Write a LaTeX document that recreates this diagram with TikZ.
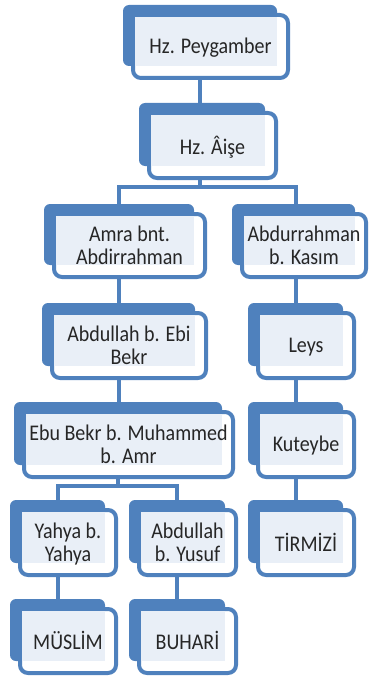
\documentclass[tikz,border=0pt]{standalone}
\usepackage{fontspec}
\setmainfont{Carlito}
\usetikzlibrary{fit,backgrounds}
\definecolor{oblue}{HTML}{4F81BD}
\definecolor{olight}{HTML}{E9EFF7}
\definecolor{otext}{HTML}{262626}
\tikzset{
  backbox/.style={fill=oblue, draw=none, rounded corners=6pt, inner sep=0pt},
  frontbox/.style={fill=white, draw=oblue, line width=4pt, rounded corners=8pt, inner sep=0pt},
  txt/.style={align=center, inner sep=0pt, text=otext, font=\fontsize{20}{20}\selectfont},
  conn/.style={draw=oblue, line width=4pt}
}
\newcommand\orgbox[6]{%
  \node[backbox, fit={(#2-8,#3-8) (#4-13,#5-14)}] (#1B) {};
  \node[frontbox, fit={(#2+2,#3+2) (#4-2,#5-2)}] (#1F) {};
  \fill[olight] (#2+4,#3+4) rectangle (#4-13,#5-14);
  \node[txt] (#1) at ([yshift=-3pt]#1F.center) {\scalebox{1}[1.12]{\begin{tabular}{@{}c@{}}#6\end{tabular}}};
}
\begin{document}
\begin{tikzpicture}[x=1pt,y=-1pt]
\useasboundingbox (0,0) rectangle (369,682);
\orgbox{pe}{131}{13}{290}{80}{Hz. Peygamber}
\orgbox{ai}{147}{111}{278}{180}{Hz. Âişe}
\orgbox{am}{52}{212}{207}{279}{Amra bnt.\\Abdirrahman}
\orgbox{ka}{240}{212}{368}{279}{Abdurrahman\\b. Kasım}
\orgbox{eb}{50}{311}{208}{380}{Abdullah b. Ebi\\Bekr}
\orgbox{le}{256}{311}{356}{380}{Leys}
\orgbox{mu}{22}{410}{235}{479}{Ebu Bekr b. Muhammed\\b. Amr}
\orgbox{ku}{256}{410}{356}{479}{Kuteybe}
\orgbox{ya}{18}{508}{118}{577}{Yahya b.\\Yahya}
\orgbox{yu}{137}{508}{238}{577}{Abdullah\\b. Yusuf}
\orgbox{ti}{256}{508}{356}{577}{TİRMİZİ}
\orgbox{ms}{18}{607}{118}{675}{MÜSLİM}
\orgbox{bu}{137}{607}{238}{675}{BUHARİ}
\coordinate (br1) at (0,187);
\coordinate (br2) at (0,486);
\begin{pgfonlayer}{background}
  \draw[conn] (peB.center) -- (peB.center |- br1);
  \draw[conn] (amB.center) -- (amB.center |- br1) -- (leB.center |- br1) -- (leB.center |- kaB.center);
  \draw[conn] (amB.center) -- (amB.center |- muB.center);
  \draw[conn] (muB.center) -- (muB.center |- br2);
  \draw[conn] (yaB.center) -- (yaB.center |- br2) -- (yuB.center |- br2) -- (yuB.center);
  \draw[conn] (yaB.center) -- (yaB.center |- msB.center);
  \draw[conn] (yuB.center) -- (yuB.center |- buB.center);
  \draw[conn] (kaB.center -| leB.center) -- (leB.center |- tiB.center);
\end{pgfonlayer}
\end{tikzpicture}
\end{document}
